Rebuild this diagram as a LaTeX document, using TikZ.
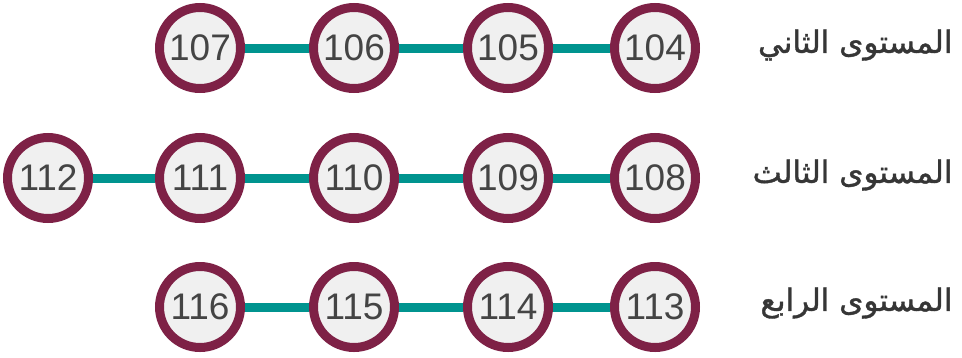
\documentclass[tikz,border=0pt]{standalone}
\usepackage{fontspec}
\setmainfont{Liberation Sans}
\newfontfamily\arabicfont[Script=Arabic,FakeBold=1.2]{DejaVu Sans}
\TeXXeTstate=1
\usepackage{tikz}

\definecolor{ringred}{HTML}{7E2146}
\definecolor{ringfill}{HTML}{F0F0F0}
\definecolor{linkteal}{HTML}{00948F}
\definecolor{numgray}{HTML}{444444}

\tikzset{
	room/.style={circle, draw=ringred, fill=ringfill, line width=9pt, minimum size=81pt, inner sep=0pt, text=numgray, font=\fontsize{37}{40}\selectfont},
	link/.style={draw=linkteal, line width=9pt},
	level/.style={anchor=east, text=numgray!80!black, font=\arabicfont\fontsize{31}{36}\selectfont}
}

\begin{document}
\begin{tikzpicture}[x=1pt,y=-1pt]
	\useasboundingbox (0,0) rectangle (962,357);
	% second level
	\node[room] (n107) at (200,48) {107};
	\node[room] (n106) at (354,48) {106};
	\node[room] (n105) at (508,48) {105};
	\node[room] (n104) at (655,48) {104};
	\node[level] (l2) at (956,45) {\beginR المستوى الثاني\endR};
	% third level
	\node[room] (n112) at (48,178) {112};
	\node[room] (n111) at (200,178) {111};
	\node[room] (n110) at (354,178) {110};
	\node[room] (n109) at (508,178) {109};
	\node[room] (n108) at (655,178) {108};
	\node[level] (l3) at (956,175) {\beginR المستوى الثالث\endR};
	% fourth level
	\node[room] (n116) at (200,307) {116};
	\node[room] (n115) at (354,307) {115};
	\node[room] (n114) at (508,307) {114};
	\node[room] (n113) at (655,307) {113};
	\node[level] (l4) at (956,303) {\beginR المستوى الرابع\endR};

	\draw[link] (n107) -- (n106);
	\draw[link] (n106) -- (n105);
	\draw[link] (n105) -- (n104);
	\draw[link] (n112) -- (n111);
	\draw[link] (n111) -- (n110);
	\draw[link] (n110) -- (n109);
	\draw[link] (n109) -- (n108);
	\draw[link] (n116) -- (n115);
	\draw[link] (n115) -- (n114);
	\draw[link] (n114) -- (n113);
\end{tikzpicture}
\end{document}
